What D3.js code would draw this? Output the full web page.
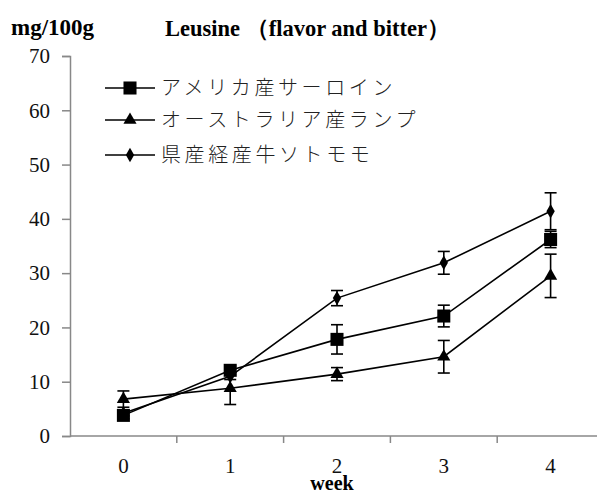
<!DOCTYPE html>
<html>
<head>
<meta charset="utf-8">
<script src="https://cdn.jsdelivr.net/npm/d3@7"></script>
<style>
  body { margin: 0; background: #fff; }
  svg { display: block; }
</style>
</head>
<body>
<svg id="chart" width="597" height="493"></svg>
<script>
// data
const weeks = ["0", "1", "2", "3", "4"];
const yTicks = [0, 10, 20, 30, 40, 50, 60, 70];

const usSirloin = [3.8, 12.1, 17.8, 22.1, 36.2];
const usSirloinErr = [0.6, 0.8, 2.7, 2.0, 1.5];

const ausRump = [6.8, 8.8, 11.4, 14.6, 29.5];
const ausRumpErr = [1.5, 3.0, 1.2, 3.0, 4.0];

const localRound = [4.2, 11.0, 25.4, 31.9, 41.4];
const localRoundErr = [0.5, 0.6, 1.4, 2.1, 3.4];

const seriesNames = ["アメリカ産サーロイン", "オーストラリア産ランプ", "県産経産牛ソトモモ"];

const series = [
  { name: seriesNames[0], values: usSirloin, err: usSirloinErr, symbol: d3.symbolSquare, size: 170 },
  { name: seriesNames[1], values: ausRump, err: ausRumpErr, symbol: d3.symbolTriangle, size: 75 },
  { name: seriesNames[2], values: localRound, err: localRoundErr, symbol: d3.symbolDiamond, size: 60 }
];

const svg = d3.select("#chart");
const plotL = 70, plotR = 604, plotT = 56, plotB = 436;

const x = d3.scaleBand().domain(weeks).range([plotL, plotR]);
const y = d3.scaleLinear().domain([0, 70]).range([plotB, plotT]);

const serif = "'Liberation Serif', 'Times New Roman', serif";
const axisColor = "#888";

// y axis
const yAxis = svg.append("g")
  .attr("transform", `translate(${plotL},0)`)
  .call(d3.axisLeft(y).tickValues(yTicks).tickSize(8).tickPadding(12));
yAxis.select(".domain").attr("stroke", axisColor).attr("stroke-width", 1.5);
yAxis.selectAll(".tick line").attr("stroke", axisColor).attr("stroke-width", 1.5);
yAxis.selectAll(".tick text")
  .attr("font-family", serif).attr("font-size", 21).attr("fill", "#111");

// x axis: ticks sit between the categories
const xAxis = svg.append("g").attr("transform", `translate(0,${plotB})`);
xAxis.append("line")
  .attr("x1", plotL).attr("x2", plotR)
  .attr("stroke", axisColor).attr("stroke-width", 1.5);
const bounds = weeks.slice(1).map(w => x(w)).concat([plotR]);
xAxis.selectAll(".xt").data(bounds).join("line")
  .attr("x1", d => d).attr("x2", d => d)
  .attr("y1", 0).attr("y2", 7)
  .attr("stroke", axisColor).attr("stroke-width", 1.5);
xAxis.selectAll(".xl").data(weeks).join("text")
  .attr("x", d => x(d) + x.bandwidth() / 2)
  .attr("y", 37)
  .attr("text-anchor", "middle")
  .attr("font-family", serif).attr("font-size", 21).attr("fill", "#111")
  .text(d => d);

svg.append("text")
  .attr("x", 332).attr("y", 490)
  .attr("text-anchor", "middle")
  .attr("font-family", serif).attr("font-weight", "bold").attr("font-size", 20)
  .text("week");

// titles
svg.append("text")
  .attr("x", 11).attr("y", 35)
  .attr("font-family", serif).attr("font-weight", "bold").attr("font-size", 23)
  .text("mg/100g");
svg.append("text")
  .attr("x", 165).attr("y", 36)
  .attr("font-family", serif).attr("font-weight", "bold").attr("font-size", 22.5)
  .text("Leusine （flavor and bitter）");

const cx = i => x(weeks[i]) + x.bandwidth() / 2;
const line = d3.line().x((d, i) => cx(i)).y(d => y(d));

series.forEach(s => {
  const g = svg.append("g");
  // error bars
  s.values.forEach((v, i) => {
    const e = s.err[i];
    g.append("line")
      .attr("x1", cx(i)).attr("x2", cx(i))
      .attr("y1", y(v - e)).attr("y2", y(v + e))
      .attr("stroke", "#000").attr("stroke-width", 1.6);
    [v - e, v + e].forEach(c => {
      g.append("line")
        .attr("x1", cx(i) - 6).attr("x2", cx(i) + 6)
        .attr("y1", y(c)).attr("y2", y(c))
        .attr("stroke", "#000").attr("stroke-width", 1.6);
    });
  });
  g.append("path")
    .datum(s.values)
    .attr("d", line)
    .attr("fill", "none").attr("stroke", "#000").attr("stroke-width", 1.6);
  g.selectAll("path.m").data(s.values).join("path")
    .attr("class", "m")
    .attr("transform", (d, i) => `translate(${cx(i)},${y(d)})`)
    .attr("d", d3.symbol().type(s.symbol).size(s.size))
    .attr("fill", "#000");
});

// legend
const legend = svg.append("g");
const legY = [88, 120, 155];
series.forEach((s, i) => {
  const row = legend.append("g").attr("transform", `translate(0,${legY[i]})`);
  row.append("line").attr("x1", 105).attr("x2", 155)
    .attr("stroke", "#000").attr("stroke-width", 1.6);
  row.append("path")
    .attr("transform", "translate(130,0)")
    .attr("d", d3.symbol().type(s.symbol).size(s.size))
    .attr("fill", "#000");
  row.append("text")
    .attr("x", 161).attr("y", 7)
    .attr("font-family", "'Noto Sans CJK JP', sans-serif")
    .attr("font-weight", 300)
    .attr("font-size", 20)
    .attr("letter-spacing", 3.6)
    .attr("fill", "#222")
    .text(s.name);
});
</script>
</body>
</html>
